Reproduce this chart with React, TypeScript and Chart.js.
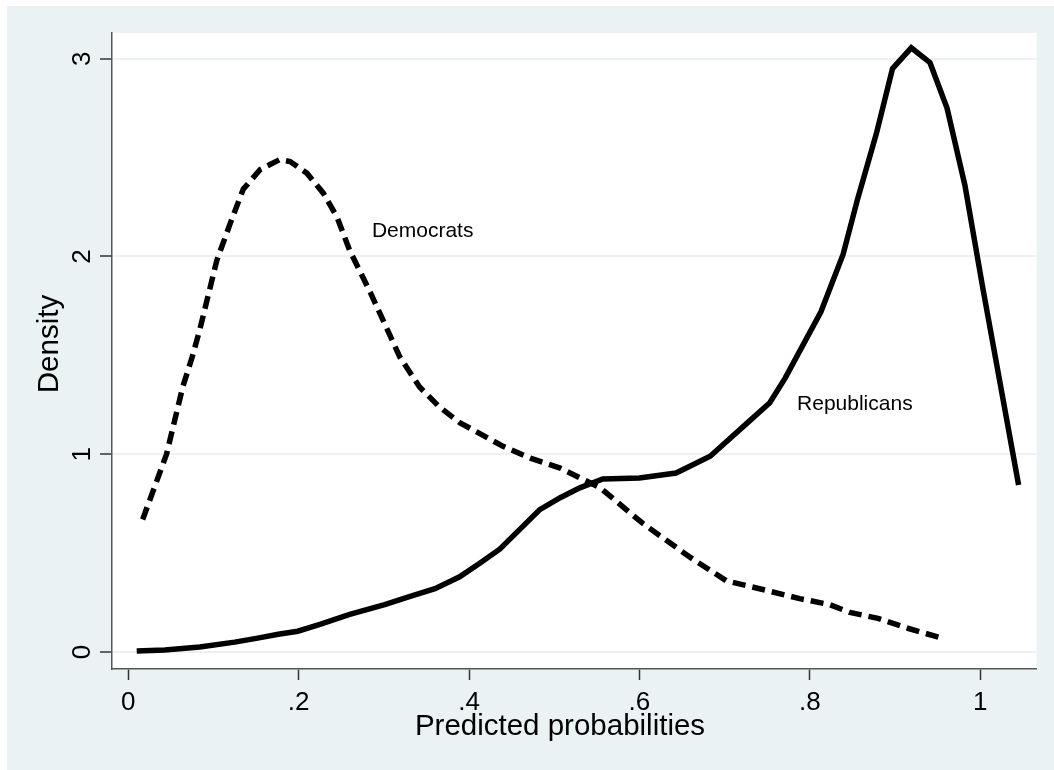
import React, { useEffect, useRef } from "react";
import { Chart, registerables } from "chart.js";

Chart.register(...registerables);

// Republicans (solid line) kernel density
const repX = [0.01, 0.043, 0.084, 0.125, 0.152, 0.176, 0.199, 0.225, 0.26, 0.301, 0.33, 0.36, 0.389, 0.413, 0.436, 0.462, 0.483, 0.507, 0.53, 0.557, 0.6, 0.643, 0.683, 0.727, 0.753, 0.771, 0.813, 0.839, 0.856, 0.878, 0.897, 0.919, 0.941, 0.961, 0.982, 1.003, 1.045];
const repY = [0.005, 0.01, 0.025, 0.05, 0.07, 0.09, 0.105, 0.14, 0.19, 0.24, 0.28, 0.32, 0.38, 0.45, 0.52, 0.63, 0.72, 0.78, 0.83, 0.875, 0.88, 0.905, 0.99, 1.16, 1.26, 1.385, 1.72, 2.01, 2.29, 2.62, 2.95, 3.055, 2.98, 2.75, 2.36, 1.84, 0.845];

// Democrats (dashed line) kernel density
const demX = [0.017, 0.045, 0.064, 0.075, 0.084, 0.104, 0.12, 0.135, 0.155, 0.178, 0.19, 0.21, 0.229, 0.245, 0.26, 0.284, 0.319, 0.342, 0.365, 0.389, 0.44, 0.472, 0.507, 0.554, 0.604, 0.659, 0.702, 0.741, 0.788, 0.823, 0.847, 0.88, 0.915, 0.955];
const demY = [0.67, 1.0, 1.34, 1.49, 1.63, 1.98, 2.17, 2.34, 2.44, 2.49, 2.48, 2.42, 2.32, 2.2, 2.03, 1.82, 1.49, 1.34, 1.24, 1.16, 1.04, 0.98, 0.93, 0.83, 0.65, 0.48, 0.36, 0.32, 0.27, 0.24, 0.2, 0.17, 0.12, 0.07];

const xTicks = [0, 0.2, 0.4, 0.6, 0.8, 1];
const xTickLabels = ["0", ".2", ".4", ".6", ".8", "1"];
const yTicks = [0, 1, 2, 3];
const yTickLabels = ["0", "1", "2", "3"];

const labelTexts = ["Democrats", "Republicans"];
const labelX = [0.286, 0.785];
const labelY = [2.13, 1.255];

const xTitle = "Predicted probabilities";
const yTitle = "Density";

const FONT = "'Liberation Sans', Arial, Helvetica, sans-serif";
const W = 1047;
const H = 764;

export default function App() {
  const ref = useRef<HTMLCanvasElement | null>(null);

  useEffect(() => {
    if (!ref.current) return;
    const bgPlugin = {
      id: "plotBg",
      beforeDraw(chart: any) {
        const { ctx, chartArea } = chart;
        ctx.save();
        ctx.fillStyle = "#ffffff";
        ctx.fillRect(chartArea.left, chartArea.top, chartArea.right - chartArea.left, chartArea.bottom - chartArea.top);
        ctx.restore();
      },
      afterDatasetsDraw(chart: any) {
        const { ctx, scales } = chart;
        ctx.save();
        ctx.fillStyle = "#000000";
        ctx.font = `21px ${FONT}`;
        ctx.textAlign = "left";
        ctx.textBaseline = "middle";
        labelTexts.forEach((t, i) => {
          ctx.fillText(t, scales.x.getPixelForValue(labelX[i]), scales.y.getPixelForValue(labelY[i]));
        });
        // axis titles
        ctx.font = `29.5px ${FONT}`;
        ctx.textAlign = "center";
        ctx.textBaseline = "middle";
        ctx.fillText(xTitle, 553, 721);
        ctx.translate(43, 338);
        ctx.rotate(-Math.PI / 2);
        ctx.fillText(yTitle, 0, 0);
        ctx.restore();
      },
    };

    const chart = new Chart(ref.current, {
      type: "line",
      data: {
        datasets: [
          {
            label: "Republicans",
            data: repX.map((x, i) => ({ x, y: repY[i] })),
            borderColor: "#000000",
            borderWidth: 5.5,
            pointRadius: 0,
            tension: 0,
            fill: false,
            borderJoinStyle: "miter",
            borderCapStyle: "butt",
          },
          {
            label: "Democrats",
            data: demX.map((x, i) => ({ x, y: demY[i] })),
            borderColor: "#000000",
            borderWidth: 5.5,
            borderDash: [13, 7],
            pointRadius: 0,
            tension: 0,
            fill: false,
            borderJoinStyle: "miter",
            borderCapStyle: "butt",
          },
        ],
      },
      options: {
        responsive: false,
        animation: false,
        devicePixelRatio: 1,
        layout: { padding: { top: 27, right: 17.5, left: 0, bottom: 0 } },
        plugins: { legend: { display: false }, tooltip: { enabled: false } },
        scales: {
          x: {
            type: "linear",
            min: -0.019,
            max: 1.066,
            afterBuildTicks(scale: any) {
              scale.ticks = xTicks.map((v) => ({ value: v }));
            },
            afterFit(scale: any) {
              scale.height = 101;
            },
            ticks: {
              callback: (v: any) => {
                const i = xTicks.findIndex((t) => Math.abs(t - Number(v)) < 1e-9);
                return i >= 0 ? xTickLabels[i] : "";
              },
              font: { family: FONT, size: 26 },
              color: "#000000",
              padding: 7,
              maxRotation: 0,
              minRotation: 0,
            },
            grid: {
              drawOnChartArea: false,
              drawTicks: true,
              tickLength: 11,
              tickColor: "#333333",
              tickWidth: 1.5,
            },
            border: { display: true, color: "#555555", width: 1.5 },
            title: { display: false },
          },
          y: {
            type: "linear",
            min: -0.086,
            max: 3.13,
            afterBuildTicks(scale: any) {
              scale.ticks = yTicks.map((v) => ({ value: v }));
            },
            afterFit(scale: any) {
              scale.width = 105;
            },
            ticks: {
              callback: (v: any) => {
                const i = yTicks.findIndex((t) => Math.abs(t - Number(v)) < 1e-9);
                return i >= 0 ? yTickLabels[i] : "";
              },
              font: { family: FONT, size: 26 },
              color: "#000000",
              padding: 10,
              minRotation: 90,
              maxRotation: 90,
              crossAlign: "center",
            },
            grid: {
              drawOnChartArea: true,
              color: "#EAF2F3",
              lineWidth: 2,
              drawTicks: true,
              tickLength: 12,
              tickColor: "#333333",
              tickWidth: 1.5,
            },
            border: { display: true, color: "#555555", width: 1.5 },
            title: { display: false },
          },
        },
      },
      plugins: [bgPlugin],
    } as any);

    return () => {
      chart.destroy();
    };
  }, []);

  return (
    <div
      style={{
        position: "absolute",
        left: 7,
        top: 6,
        width: W,
        height: H,
        background: "#EAF2F3",
      }}
    >
      <canvas ref={ref} width={W} height={H} style={{ display: "block", width: W, height: H }} />
    </div>
  );
}
